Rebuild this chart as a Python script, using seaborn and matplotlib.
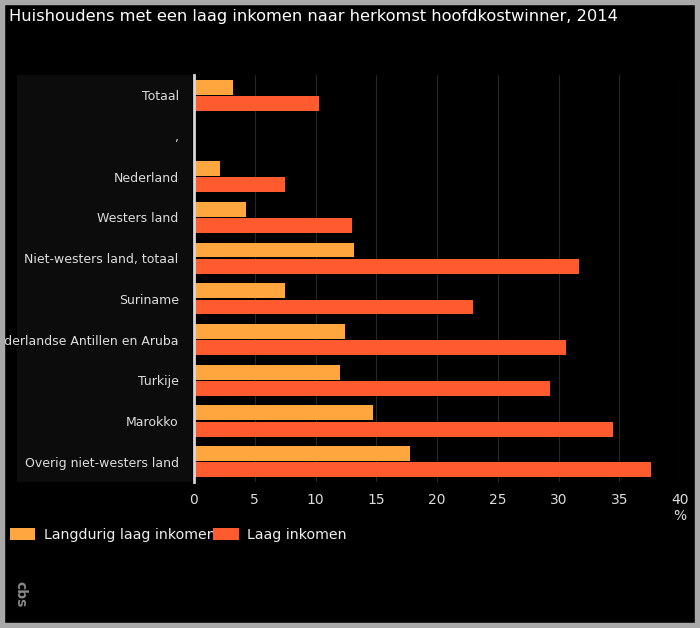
import pandas as pd
import numpy as np
import matplotlib
matplotlib.use('Agg')
import matplotlib.pyplot as plt
from matplotlib.patches import Rectangle
import seaborn as sns

sns.set_theme(style='dark')
plt.rcParams['font.family'] = ['DejaVu Sans']

# data (%)
categories = ['Totaal', ',', 'Nederland', 'Westers land', 'Niet-westers land, totaal',
              'Suriname', 'Nederlandse Antillen en Aruba', 'Turkije', 'Marokko',
              'Overig niet-westers land']
langdurig = [3.2, np.nan, 2.1, 4.3, 13.2, 7.5, 12.4, 12.0, 14.7, 17.8]
laag = [10.3, np.nan, 7.5, 13.0, 31.7, 23.0, 30.6, 29.3, 34.5, 37.6]
series = ['Langdurig laag inkomen', 'Laag inkomen']
colors = ['#FFA63F', '#FF5B2E']
xticks = [0, 5, 10, 15, 20, 25, 30, 35, 40]

df = pd.DataFrame({
    'Herkomst': categories * 2,
    'Reeks': [series[0]] * len(categories) + [series[1]] * len(categories),
    'Waarde': langdurig + laag,
}).dropna()

fig = plt.figure(figsize=(7, 6.28), dpi=100, facecolor='black')
ax = fig.add_axes([194 / 700, 1 - 482 / 628, 486 / 700, 407 / 628])
ax.set_facecolor('black')

# dark panel behind the category labels
fig.patches.append(Rectangle((17 / 700, 1 - 482 / 628), 175 / 700, 407 / 628,
                             transform=fig.transFigure, facecolor='#0c0c0c',
                             edgecolor='none', zorder=-1))

sns.barplot(data=df, y='Herkomst', x='Waarde', hue='Reeks', order=categories,
            hue_order=series, palette=colors, orient='h', width=0.8, gap=0.08,
            saturation=1, linewidth=0, ax=ax, legend=False)

ax.set_xlim(0, 40)
ax.set_ylim(len(categories) - 0.5, -0.5)
ax.set_xticks(xticks)
ax.set_xticklabels([str(t) for t in xticks], color='#dddddd', fontsize=10)
ax.tick_params(axis='x', length=0, pad=8)
ax.tick_params(axis='y', length=0, pad=11, labelcolor='#dddddd', labelsize=9)
ax.set_xlabel('')
ax.set_ylabel('')
ax.grid(axis='x', color='#262626', linewidth=0.8)
ax.grid(axis='y', visible=False)
for s in ['top', 'right', 'bottom']:
    ax.spines[s].set_visible(False)
ax.spines['left'].set_color('#d8d8d8')
ax.spines['left'].set_linewidth(2)

fig.text(680 / 700, 1 - 516 / 628, '%', color='#dddddd', fontsize=10,
         ha='center', va='center')

fig.text(9 / 700, 1 - 17 / 628,
         'Huishoudens met een laag inkomen naar herkomst hoofdkostwinner, 2014',
         color='white', fontsize=11.7, ha='left', va='center')

# legend
handles = [Rectangle((0, 0), 1, 1, facecolor=c, edgecolor='none') for c in colors]
fig.legend(handles, series, loc='center left', bbox_to_anchor=(-3 / 700, 1 - 535 / 628),
           ncol=2, frameon=False, fontsize=10.2, labelcolor='#eeeeee',
           handlelength=1.8, handleheight=0.9, handletextpad=0.6, columnspacing=-0.15)

# logo
fig.text(20 / 700, 1 - 594 / 628, 'cbs', color='#888888', fontsize=10,
         rotation=-90, ha='center', va='center', fontweight='bold')

# grey frame
fig.patches.append(Rectangle((0, 0), 1, 1, transform=fig.transFigure, fill=False,
                             edgecolor='#a9a9a9', linewidth=7.5, zorder=10))

fig.savefig('out.png', dpi=100, facecolor='black')
